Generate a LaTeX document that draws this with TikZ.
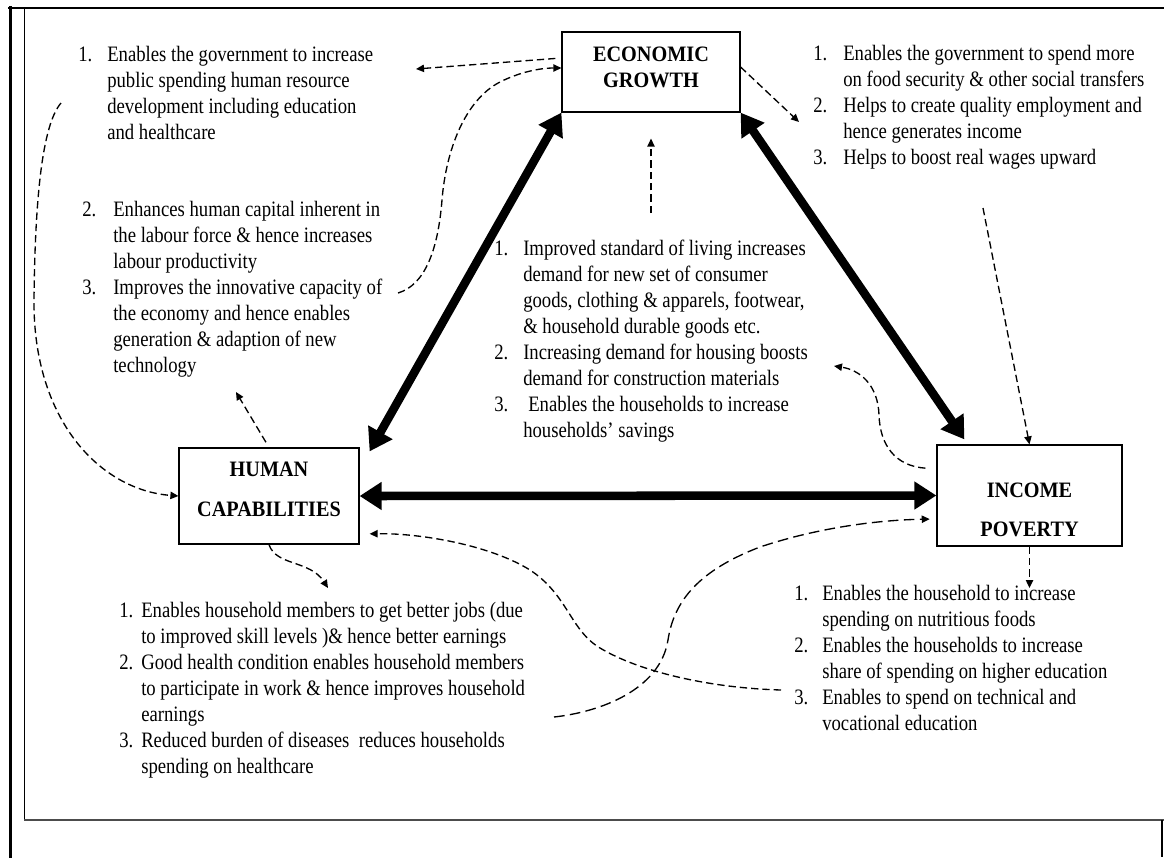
\documentclass[tikz,border=0pt]{standalone}
\usepackage{fontspec}
\setmainfont{Liberation Serif}[FakeStretch=0.85]
\newfontfamily\boxfont{Liberation Serif}[FakeStretch=0.92]
\usetikzlibrary{arrows.meta}
\newcommand\itemblock[2]{\begin{tabular}[t]{@{}p{#1}@{}l@{}}#2\end{tabular}}
\begin{document}
\begin{tikzpicture}[x=0.75pt,y=-0.75pt,
  box/.style={draw, line width=0.9pt, inner sep=0pt, align=center,
    font=\boxfont\bfseries\fontsize{16.5}{19.5}\selectfont},
  blk/.style={inner sep=0pt, anchor=base west, font=\fontsize{16.5}{19.5}\selectfont},
  bigarrow/.style={line width=6.4pt,
    {Triangle[length=16.5pt,width=20pt]}-{Triangle[length=16.5pt,width=20pt]}},
  dsh/.style={line width=1pt, dash pattern=on 5.5pt off 3pt,
    -{Triangle[length=6pt,width=5.5pt]}},
  dshlong/.style={line width=1pt, dash pattern=on 8pt off 4pt,
    -{Triangle[length=6pt,width=5.5pt]}},
  frame/.style={line cap=rect}]
\useasboundingbox (0,0) rectangle (1164,857);

% frame lines
\draw[frame, line width=2.25pt] (10,7) -- (10,857);
\draw[frame, line width=1.5pt] (9,7.5) -- (1164,7.5);
\draw[line width=0.75pt] (24,7.5) -- (24,820);
\draw[line width=1.1pt, gray!60!black] (24,820) -- (1164,820);
\draw[line width=1.5pt] (1162,820) -- (1162,857);

% boxes
\node[box, minimum width=133.5pt, minimum height=60pt] (EG) at (651,72)
  {ECONOMIC\\GROWTH\rule[-6.75pt]{0pt}{0pt}};
\node[box, minimum width=135pt, minimum height=72pt] (HC) at (269,496)
  {HUMAN\\[10.5pt]CAPABILITIES\rule[-9.75pt]{0pt}{0pt}};
\node[box, minimum width=138.75pt, minimum height=75.75pt] (IP) at (1029.5,495.5)
  {\rule{0pt}{33pt}INCOME\\[9.75pt]POVERTY};

% text blocks
\node[blk] (A) at (78,61) {\itemblock{21.75pt}{%
1. & Enables the government to increase\\
   & public spending human resource\\
   & development including education\\
   & and healthcare}};
\node[blk] (B) at (82,216) {\itemblock{23.25pt}{%
2. & Enhances human capital inherent in\\
   & the labour force \& hence increases\\
   & labour productivity\\
3. & Improves the innovative capacity of\\
   & the economy and hence enables\\
   & generation \& adaption of new\\
   & technology}};
\node[blk] (C) at (813,60) {\itemblock{22.5pt}{%
1. & Enables the government to spend more\\
   & on food security \& other social transfers\\
2. & Helps to create quality employment and\\
   & hence generates income\\
3. & Helps to boost real wages upward}};
\node[blk] (D) at (494,255) {\itemblock{21.75pt}{%
1. & Improved standard of living increases\\
   & demand for new set of consumer\\
   & goods, clothing \& apparels, footwear,\\
   & \& household durable goods etc.\\
2. & Increasing demand for housing boosts\\
   & demand for construction materials\\
3. & \hspace{3.75pt}Enables the households to increase\\
   & households’ savings}};
\node[blk] (E) at (119,617) {\itemblock{16.5pt}{%
1. & Enables household members to get better jobs (due\\
   & to improved skill levels )\& hence better earnings\\
2. & Good health condition enables household members\\
   & to participate in work \& hence improves household\\
   & earnings\\
3. & Reduced burden of diseases\ \ reduces households\\
   & spending on healthcare}};
\node[blk] (F) at (794,600) {\itemblock{21pt}{%
1. & Enables the household to increase\\
   & spending on nutritious foods\\
2. & Enables the households to increase\\
   & share of spending on higher education\\
3. & Enables to spend on technical and\\
   & vocational education}};

% thick double arrows
\draw[bigarrow] (EG.south west) -- ([xshift=7.5pt,yshift=-3pt]HC.north east);
\draw[bigarrow] (EG.south east) -- ([xshift=21pt,yshift=3.75pt]IP.north west);
\draw[bigarrow] (HC.east) -- (IP.west);

% dashed connectors
\coordinate (c1) at (416,69);
\draw[dsh, shorten <=4.5pt] ([yshift=10.5pt]EG.west) -- (c1);

\coordinate (c2) at (398,293);
\draw[dsh] (c2) .. controls (425,285) and (438,250) .. (442,200)
  .. controls (446,150) and (465,100) .. (500,82)
  .. controls (520,72) and (540,68) .. ([yshift=3pt]EG.west);

\coordinate (c3) at (61,103);
\draw[dsh] (c3) .. controls (42,125) and (35,200) .. (34,300)
  .. controls (33,420) and (100,490) .. (HC.west);

\coordinate (c4) at (236,392);
\draw[dsh, shorten <=4.5pt] (HC.north) -- (c4);

\coordinate (c5) at (328,588);
\draw[dsh] (HC.south) .. controls (276,566) and (310,560) .. (c5);

\coordinate (c6) at (651,213);
\draw[dsh, shorten >=19.5pt] (c6) -- (EG.south);

\coordinate (c7) at (799,122);
\draw[dsh] ([yshift=3.75pt]EG.east) -- (c7);

\coordinate (c8) at (983,208);
\draw[dsh] (c8) -- (IP.north);

\coordinate (c9) at (834,366);
\draw[dsh] ([xshift=-8.25pt,yshift=20.5pt]IP.west) .. controls (895,466) and (880,445) .. (879,415)
  .. controls (878,385) and (860,370) .. (c9);

\coordinate (c10) at (1029.5,588);
\draw[dsh] (IP.south) -- (c10);

\coordinate (c11) at (781,690);
\draw[dsh, shorten >=7.5pt] (c11) .. controls (710,688) and (640,672) .. (600,648)
  .. controls (570,630) and (568,595) .. (530,570)
  .. controls (490,545) and (420,533) .. ([yshift=-28.5pt]HC.east);

\coordinate (c12) at (554,717);
\draw[dshlong, shorten >=5pt] (c12) .. controls (600,712) and (660,690) .. (668,640)
  .. controls (674,600) and (700,570) .. (760,547)
  .. controls (820,527) and (880,520) .. ([yshift=-17.6pt]IP.west);
\end{tikzpicture}
\end{document}
